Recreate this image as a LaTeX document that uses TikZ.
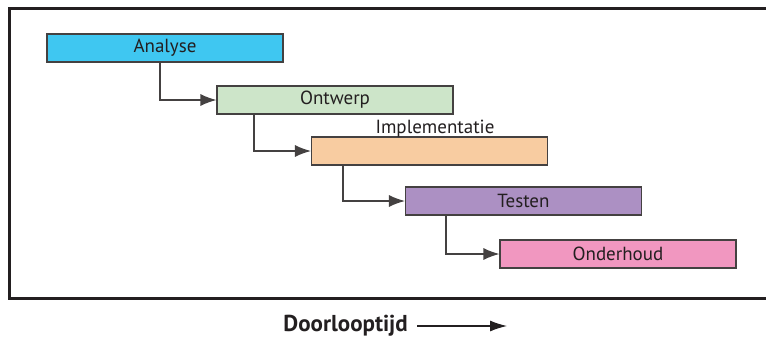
\documentclass[tikz,border=0pt]{standalone}
\usepackage{fontspec}
\setmainfont{PT Sans}
\usetikzlibrary{arrows.meta}
\definecolor{cAna}{HTML}{3FC7F1}
\definecolor{cOnt}{HTML}{CDE5C9}
\definecolor{cImp}{HTML}{F8CCA1}
\definecolor{cTes}{HTML}{AC90C3}
\definecolor{cOnd}{HTML}{F197C0}
\definecolor{ink}{HTML}{231F20}
\tikzset{
  phase/.style={draw=ink!85, line width=1.1pt, minimum width=236pt, minimum height=28pt, inner sep=0pt, font=\fontsize{19}{19}\selectfont, text=ink},
  conn/.style={draw=ink!85, line width=1.3pt, -{Latex[length=16pt,width=12pt]}},
}
\begin{document}
\begin{tikzpicture}[x=1pt,y=-1pt]
\useasboundingbox (0,0) rectangle (766,338);
\fill[white] (0,0) rectangle (766,338);
\begin{scope}
\clip (0,0) rectangle (766,338);
\draw[ink, line width=3pt] (9,8) rectangle (790,298);
\end{scope}
\node[phase, fill=cAna] (ana) at (165,48) {Analyse};
\node[phase, fill=cOnt] (ont) at (335,100) {Ontwerp};
\node[phase, fill=cImp] (imp) at (429.5,151) {};
\node[font=\fontsize{19}{19}\selectfont, text=ink, inner sep=0pt, anchor=base] (impl) at (435,133) {Implementatie};
\node[phase, fill=cTes] (tes) at (523.5,201) {Testen};
\node[phase, fill=cOnd] (ond) at (618,254) {Onderhoud};
\draw[conn] (ana.south -| 160,0) |- (ont.west);
\draw[conn] (ont.south -| 254,0) |- (imp.west);
\draw[conn] (imp.south -| 343,0) |- (tes.west);
\draw[conn] (tes.south -| 446,0) |- (ond.west);
\node[font=\fontsize{23}{23}\selectfont\bfseries, text=ink, inner sep=0pt, anchor=base east] (dl) at (408,331) {Doorlooptijd};
\coordinate (aend) at (507,326);
\draw[draw=ink, line width=1.1pt, -{Latex[length=17pt,width=11pt]}] (417,326) -- (aend);
\end{tikzpicture}
\end{document}
